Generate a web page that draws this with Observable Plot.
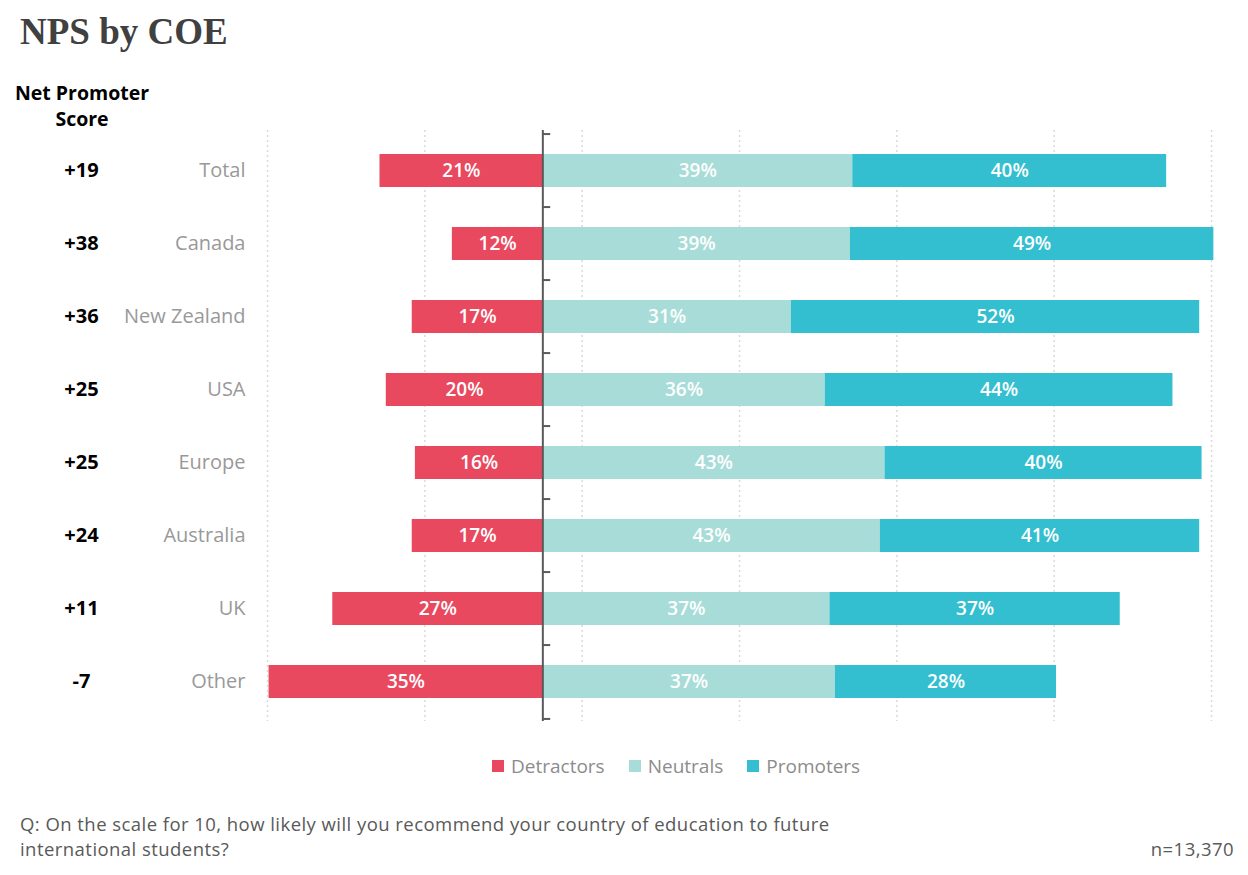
<!DOCTYPE html>
<html><head><meta charset="utf-8">
<script src="https://cdn.jsdelivr.net/npm/d3@7"></script>
<script src="https://cdn.jsdelivr.net/npm/@observablehq/plot@0.6"></script>
<style>
body{margin:0;width:1248px;height:875px;position:relative;background:#fff;font-family:"Open Sans",sans-serif;overflow:hidden}
#title{position:absolute;left:20px;top:9px;font-family:"Liberation Serif",serif;font-weight:700;font-size:37px;color:#404040;line-height:46px}
#npsHead{position:absolute;left:2px;width:160px;top:80px;text-align:center;font-weight:700;font-size:19.5px;line-height:26px;color:#000}
#chart{position:absolute;left:0;top:60px}
#chart svg{display:block}
#legend{position:absolute;left:492px;top:753px;display:flex;align-items:center;font-size:19px;color:#8c8c8c;line-height:26px}
#legend .item{display:flex;align-items:center;margin-right:24px}
#legend .sw{width:12px;height:12px;margin-right:7px}
.foot{position:absolute;font-size:18.5px;letter-spacing:0.45px;line-height:22px;color:#595959;white-space:nowrap}
#q1{left:20px;top:813px}
#q2{left:20px;top:838px}
#n{right:14px;top:838px}
</style></head><body>
<div id="title">NPS by COE</div>
<div id="npsHead">Net Promoter<br>Score</div>
<div id="chart"></div>
<div id="legend"></div>
<div class="foot" id="q1">Q: On the scale for 10, how likely will you recommend your country of education to future</div>
<div class="foot" id="q2">international students?</div>
<div class="foot" id="n">n=13,370</div>
<script>
const categories = ["Total","Canada","New Zealand","USA","Europe","Australia","UK","Other"];
const nps = ["+19","+38","+36","+25","+25","+24","+11","-7"];
// bar lengths (in %) as drawn
const detractors = [20.7,11.5,16.6,19.9,16.2,16.6,26.7,34.8];
const neutrals   = [39.4,39.1,31.6,35.9,43.5,42.9,36.5,37.2];
const promoters  = [39.9,46.2,51.9,44.2,40.3,40.6,36.9,28.1];
// printed labels
const detLabels = [21,12,17,20,16,17,27,35];
const neuLabels = [39,39,31,36,43,43,37,37];
const proLabels = [40,49,52,44,40,41,37,28];
const gridTicks = [-35,-15,5,25,45,65,85];
const seriesNames = ["Detractors","Neutrals","Promoters"];
const seriesColors = ["#E8495F","#A8DCD9","#33BFCF"];

const segments = [];
categories.forEach((c,i)=>{
  segments.push({cat:c, series:"Detractors", x1:-detractors[i], x2:0, label:detLabels[i]});
  segments.push({cat:c, series:"Neutrals", x1:0, x2:neutrals[i], label:neuLabels[i]});
  segments.push({cat:c, series:"Promoters", x1:neutrals[i], x2:neutrals[i]+promoters[i], label:proLabels[i]});
});
const H = 680, MT = 70, MB = 19;
const step = (H-MT-MB)/categories.length;

const chart = Plot.plot({
  width:1248, height:H, marginLeft:267, marginRight:37, marginTop:MT, marginBottom:MB,
  x:{domain:[-35,85], axis:null},
  y:{domain:categories, axis:null, padding:0},
  color:{domain:seriesNames, range:seriesColors},
  style:{fontFamily:"Open Sans", background:"transparent", overflow:"visible"},
  marks:[
    Plot.ruleX(gridTicks,{stroke:"#d9d9d9", strokeWidth:1.5, strokeDasharray:"2,3"}),
    Plot.barX(segments,{y:"cat", x1:"x1", x2:"x2", fill:"series", insetTop:20, insetBottom:20}),
    Plot.text(segments,{y:"cat", x:d=>(d.x1+d.x2)/2, text:d=>d.label+"%", fill:"white", fontSize:19, fontWeight:600}),
    Plot.ruleX([0],{stroke:"#595959", strokeWidth:2}),
    Plot.ruleY(categories,{y:d=>d, x1:0, x2:1, dy:-step/2, stroke:"#595959", strokeWidth:2}),
    Plot.ruleY(categories.slice(-1),{y:d=>d, x1:0, x2:1, dy:step/2, stroke:"#595959", strokeWidth:2}),
    Plot.text(categories,{y:d=>d, text:d=>d, frameAnchor:"left", textAnchor:"end", dx:-22, fill:"#999999", fontSize:20}),
    Plot.text(categories,{y:d=>d, text:(d,i)=>nps[i], frameAnchor:"left", textAnchor:"middle", dx:-186, fill:"#000", fontSize:20, fontWeight:700})
  ]
});
document.getElementById("chart").appendChild(chart);

const legend = document.getElementById("legend");
seriesNames.forEach((s,i)=>{
  const it = document.createElement("div"); it.className="item";
  const sw = document.createElement("span"); sw.className="sw"; sw.style.background=seriesColors[i];
  const t = document.createElement("span"); t.textContent=s;
  it.appendChild(sw); it.appendChild(t); legend.appendChild(it);
});
</script>
</body></html>
